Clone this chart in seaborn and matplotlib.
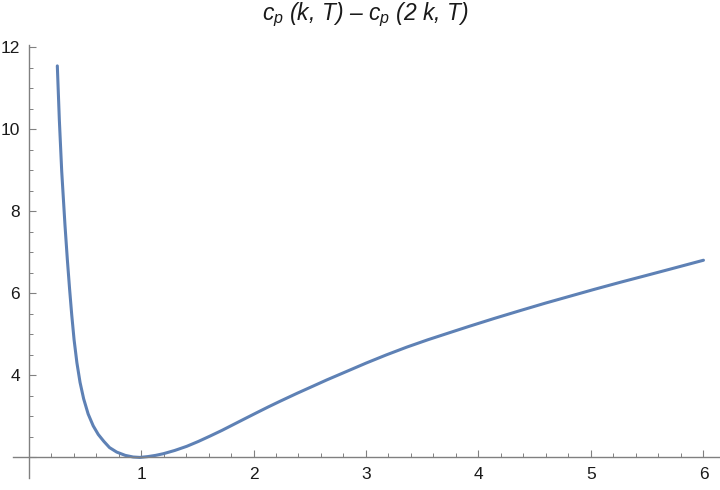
import numpy as np
import pandas as pd
import matplotlib
matplotlib.use("Agg")
import matplotlib.pyplot as plt
import seaborn as sns
from matplotlib.ticker import FixedLocator, MultipleLocator

# values
k_vals = [0.256, 0.274, 0.295, 0.324, 0.345, 0.365, 0.384, 0.405, 0.43, 0.458,
          0.49, 0.53, 0.575, 0.62, 0.67, 0.72, 0.784, 0.86, 0.93, 0.99,
          1.06, 1.13, 1.198, 1.30, 1.406, 1.51, 1.613, 1.72, 1.82, 1.92,
          2.028, 2.13, 2.236, 2.384, 2.53, 2.651, 2.83, 3.0, 3.18, 3.362,
          3.55, 3.74, 3.92, 4.14, 4.369, 4.59, 4.81, 5.03, 5.258, 5.48,
          5.70, 6.0]
diff_vals = [11.54, 10.22, 8.97, 7.66, 6.82, 6.10, 5.47, 4.86, 4.30, 3.82,
             3.42, 3.05, 2.76, 2.55, 2.38, 2.23, 2.12, 2.04, 2.00, 1.99,
             2.01, 2.04, 2.08, 2.16, 2.26, 2.38, 2.51, 2.65, 2.79, 2.93,
             3.08, 3.22, 3.36, 3.55, 3.73, 3.88, 4.09, 4.29, 4.49, 4.68,
             4.86, 5.03, 5.19, 5.38, 5.57, 5.75, 5.92, 6.09, 6.26, 6.42,
             6.58, 6.80]

x_major = [1, 2, 3, 4, 5, 6]
y_major = [2, 4, 6, 8, 10, 12]
y_labels = ['', '4', '6', '8', '10', '12']

df = pd.DataFrame({'k': k_vals, 'diff': diff_vals})

sns.set_theme(style="white")
plt.rcParams['font.family'] = ['Liberation Sans', 'DejaVu Sans']
plt.rcParams['mathtext.fontset'] = 'custom'
plt.rcParams['mathtext.it'] = 'Liberation Sans:italic'
plt.rcParams['mathtext.rm'] = 'Liberation Sans'

fig = plt.figure(figsize=(7.2, 4.9), dpi=100)
ax = fig.add_axes([13 / 720, 12 / 490, 707 / 720, 433 / 490])

sns.lineplot(data=df, x='k', y='diff', ax=ax, color='#5E81B5',
             linewidth=2.2, sort=False, estimator=None)

ax.set_xlim(-0.138, 6.147)
ax.set_ylim(1.488, 12.05)

# Mathematica style axes crossing at (0, 2)
axis_col = '#808080'
ax.spines['left'].set_position(('data', 0))
ax.spines['bottom'].set_position(('data', 2))
ax.spines['top'].set_visible(False)
ax.spines['right'].set_visible(False)
for s in ['left', 'bottom']:
    ax.spines[s].set_color(axis_col)
    ax.spines[s].set_linewidth(1.0)

ax.set_xticks(x_major)
ax.set_xticklabels([str(v) for v in x_major])
ax.xaxis.set_minor_locator(MultipleLocator(0.2))
ax.set_yticks(y_major)
ax.set_yticklabels(y_labels)
ax.yaxis.set_minor_locator(FixedLocator([v for v in np.arange(2.5, 12, 0.5) if v % 2 != 0]))

ax.tick_params(axis='both', which='both', bottom=True, left=True)
ax.tick_params(axis='both', which='major', direction='in', length=5, width=0.8,
               color=axis_col, labelsize=12.5, labelcolor='#1a1a1a', pad=7.5)
ax.tick_params(axis='both', which='minor', direction='in', length=3, width=0.7,
               color=axis_col)
ax.tick_params(axis='y', which='major', pad=6)

ax.set_xlabel('')
ax.set_ylabel('')
ax.grid(False)

fig.text(0.507, 0.969, r'$c_p$ (k, T) – $c_p$ (2 k, T)', ha='center', va='center',
         fontsize=16.5, style='italic', color='#1a1a1a')

plt.savefig('out.png', dpi=100)
